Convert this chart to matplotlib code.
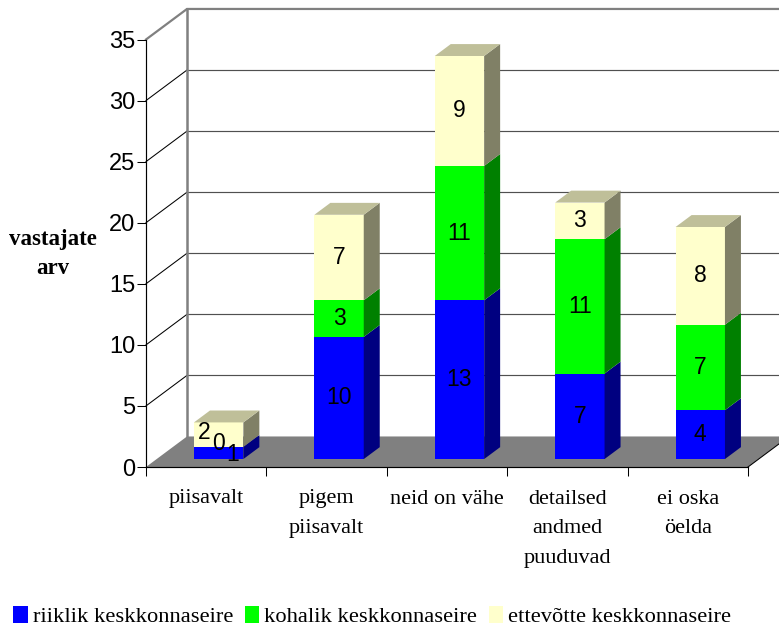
import matplotlib
matplotlib.use("Agg")
import matplotlib.pyplot as plt
from matplotlib.patches import Polygon, Patch

categories = ["piisavalt", "pigem\npiisavalt", "neid on vähe", "detailsed\nandmed\npuuduvad", "ei oska\nöelda"]
riiklik = [1, 10, 13, 7, 4]
kohalik = [0, 3, 11, 11, 7]
ettevotte = [2, 7, 9, 3, 8]
series_names = ["riiklik keskkonnaseire", "kohalik keskkonnaseire", "ettevõtte keskkonnaseire"]
yticks = [0, 5, 10, 15, 20, 25, 30, 35]

FRONT = ["#0000FF", "#00FF00", "#FFFFCC"]
SIDE = ["#000080", "#008000", "#808066"]
TOP = ["#0000BF", "#00BF00", "#BFBF99"]
FLOOR = "#808080"

# Oblique projection: one unit of depth shifts by this much in data units
DEPTH_X = 41 / 120.4
DEPTH_Y = 30.5 / 12.2
BAR_NEAR, BAR_FAR = 0.26, 0.65
BAR_W = 0.41
BAR_SHIFT = 0.015

W, H = 779, 626
fig = plt.figure(figsize=(W / 100, H / 100), dpi=100, facecolor="white")
ax = fig.add_axes([146 / W, (H - 467) / H, 602 / W, 427.5 / H])
ax.set_xlim(0, 5)
ax.set_ylim(0, 35)
ax.patch.set_visible(False)


def proj(x, v, d=0.0):
    return (x + d * DEPTH_X, v + d * DEPTH_Y)


# Floor and walls
ax.add_patch(Polygon([proj(0, 0), proj(0, 0, 1), proj(5, 0, 1), proj(5, 0)],
                     closed=True, fc=FLOOR, ec="none", clip_on=False, zorder=1))
for v in yticks[1:-1]:
    ax.plot(*zip(proj(0, v), proj(0, v, 1)), color="black", lw=0.75, clip_on=False, zorder=1)
    ax.plot(*zip(proj(0, v, 1), proj(5, v, 1)), color="#505050", lw=0.85, clip_on=False, zorder=1)
ax.plot(*zip(proj(0, 35), proj(0, 35, 1), proj(5, 35, 1)), color=FLOOR, lw=1.6,
        clip_on=False, zorder=1, solid_joinstyle="miter")
ax.plot(*zip(proj(0, 0, 1), proj(0, 35, 1)), color=FLOOR, lw=1.8, clip_on=False, zorder=1)
ax.plot(*zip(proj(5, 0), proj(5, 0, 1)), color="black", lw=0.75, clip_on=False, zorder=1)


def add_face(points, color, z):
    ax.add_patch(Polygon(points, closed=True, fc=color, ec="none", clip_on=False, zorder=z))


# Stacked bars, with the crowded first column's labels spread sideways
label_nudge = {(0, 0): (14, -2), (0, 1): (0, 3), (0, 2): (-14, 2)}
stacks = [riiklik, kohalik, ettevotte]
for i in range(len(categories)):
    cx = i + 0.5 + BAR_SHIFT
    x0, x1 = cx - BAR_W / 2, cx + BAR_W / 2
    base = 0
    top_series = max(s for s in range(3) if stacks[s][i] > 0)
    for s in range(3):
        val = stacks[s][i]
        lo, hi = base, base + val
        z = 3 + i + s * 0.1
        if val > 0:
            add_face([proj(x0, lo, BAR_NEAR), proj(x1, lo, BAR_NEAR),
                      proj(x1, hi, BAR_NEAR), proj(x0, hi, BAR_NEAR)], FRONT[s], z)
            add_face([proj(x1, lo, BAR_NEAR), proj(x1, lo, BAR_FAR),
                      proj(x1, hi, BAR_FAR), proj(x1, hi, BAR_NEAR)], SIDE[s], z)
            if s == top_series:
                add_face([proj(x0, hi, BAR_NEAR), proj(x1, hi, BAR_NEAR),
                          proj(x1, hi, BAR_FAR), proj(x0, hi, BAR_FAR)], TOP[s], z)
        dx, dy = label_nudge.get((i, s), (0, 0))
        lx, ly = proj(cx, (lo + hi) / 2, BAR_NEAR)
        ax.annotate(str(val), (lx, ly), xytext=(dx * 0.72, dy * 0.72), textcoords="offset points",
                    ha="center", va="center", fontsize=16.5, family="Liberation Sans",
                    color="black", zorder=20, annotation_clip=False)
        base = hi

# Axes
for side in ("top", "right"):
    ax.spines[side].set_visible(False)
for side in ("left", "bottom"):
    ax.spines[side].set_linewidth(0.85)
    ax.spines[side].set_zorder(30)
ax.set_yticks(yticks)
ax.set_yticklabels([str(t) for t in yticks], family="Liberation Sans", fontsize=17)
ax.tick_params(axis="y", length=6.2, width=0.75, pad=1.5)
ax.set_xticks(range(6))
ax.set_xticklabels([""] * 6)
ax.tick_params(axis="x", which="major", length=6.5, width=0.75)
ax.set_xticks([i + 0.5 for i in range(5)], minor=True)
ax.set_xticklabels(categories, minor=True, family="Liberation Serif", fontsize=16,
                   linespacing=1.75)
ax.tick_params(axis="x", which="minor", length=0, pad=16.2)

ax.set_ylabel("vastajate\narv", rotation=0, family="Liberation Serif", fontweight="bold",
              fontsize=16.5, linespacing=1.5, ha="center", va="center")
ax.yaxis.set_label_coords(-93 / 602, (467 - 254.5) / 427.5)

handles = [Patch(fc=c, ec="none") for c in FRONT]
fig.legend(handles, series_names, ncol=3, frameon=False, loc="lower left",
           bbox_to_anchor=(13 / W, -1 / H), borderaxespad=0, borderpad=0,
           handlelength=0.65, handleheight=0.8,
           handletextpad=0.22, columnspacing=0.52,
           prop={"family": "Liberation Serif", "size": 16.2})

fig.savefig("out.png", dpi=100, facecolor="white")
